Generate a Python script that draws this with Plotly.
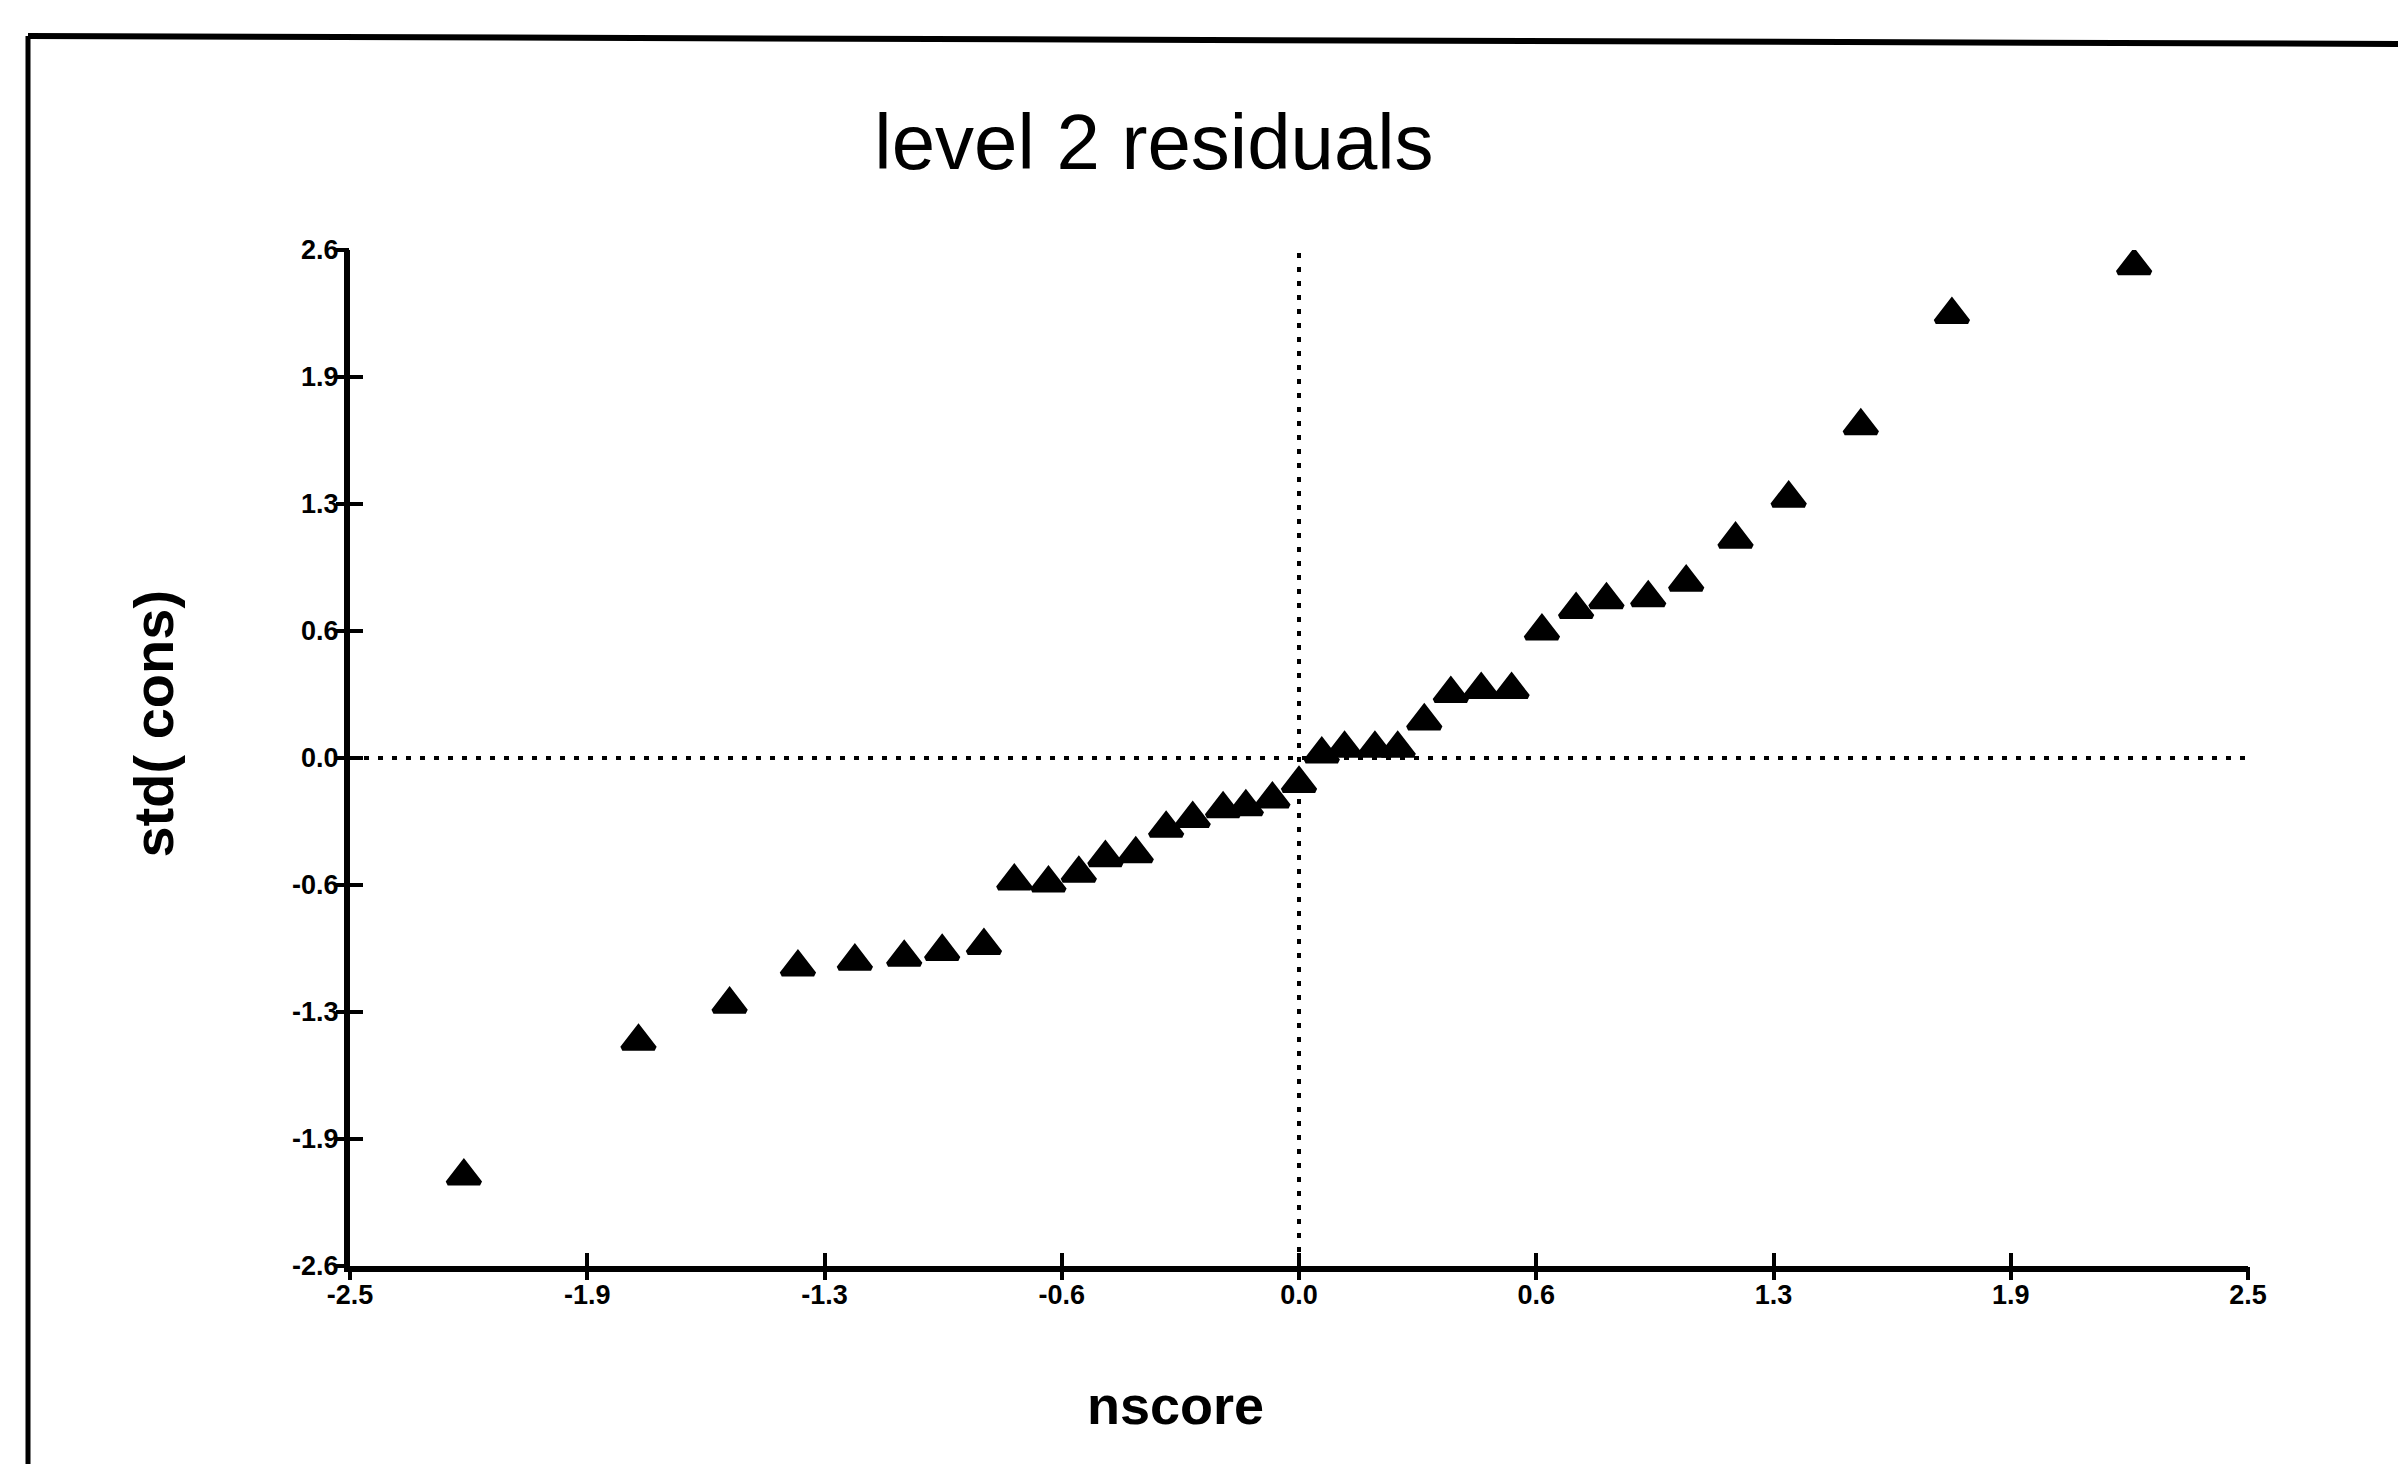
import plotly.graph_objects as go

# ---- data ----
nscore = [-2.20, -1.74, -1.50, -1.32, -1.17, -1.04, -0.94, -0.83, -0.75, -0.66,
          -0.58, -0.51, -0.43, -0.35, -0.28, -0.20, -0.14, -0.07, 0.00, 0.06,
          0.12, 0.20, 0.26, 0.33, 0.40, 0.48, 0.56, 0.64, 0.73, 0.81,
          0.92, 1.02, 1.15, 1.29, 1.48, 1.72, 2.20]
std_cons = [-2.14, -1.45, -1.26, -1.07, -1.04, -1.02, -0.99, -0.96, -0.63, -0.64,
            -0.59, -0.51, -0.49, -0.36, -0.31, -0.26, -0.25, -0.21, -0.13, 0.02,
            0.05, 0.05, 0.05, 0.19, 0.33, 0.35, 0.35, 0.65, 0.76, 0.81,
            0.82, 0.90, 1.12, 1.33, 1.70, 2.27, 2.52]

x_tickvals = [-2.5, -1.875, -1.25, -0.625, 0.0, 0.625, 1.25, 1.875, 2.5]
x_ticktext = ["-2.5", "-1.9", "-1.3", "-0.6", "0.0", "0.6", "1.3", "1.9", "2.5"]
y_tickvals = [2.6, 1.95, 1.3, 0.65, 0.0, -0.65, -1.3, -1.95, -2.6]
y_ticktext = ["2.6", "1.9", "1.3", "0.6", "0.0", "-0.6", "-1.3", "-1.9", "-2.6"]
x_range = [-2.5, 2.5]
y_range = [-2.6, 2.6]
ref_x = 0.0
ref_y = 0.0

FONT = "Liberation Sans, Arial, sans-serif"
W, H = 2406, 1464
ML, MR, MT, MB = 342, 166, 242, 206
PW, PH = W - ML - MR, H - MT - MB


def px_x(px):
    return (px - ML) / PW


def px_y(py):
    return 1 - (py - MT) / PH


fig = go.Figure()
fig.add_trace(go.Scatter(
    x=nscore, y=std_cons, mode="markers",
    marker=dict(symbol="triangle-up", size=28, color="black",
                line=dict(color="black", width=5)),
    showlegend=False, hoverinfo="x+y"))
# empty trace so the overlay axes (outer tick halves) are drawn
fig.add_trace(go.Scatter(x=[], y=[], xaxis="x2", yaxis="y2", showlegend=False))

tickfont = dict(family=FONT, size=27, color="black", weight="bold")

fig.update_layout(
    width=W, height=H,
    margin=dict(l=ML, r=MR, t=MT, b=MB),
    paper_bgcolor="white", plot_bgcolor="white",
    title=dict(text="level 2 residuals", x=0.4763, xref="container", xanchor="center",
               y=0.909, yref="container", yanchor="middle",
               font=dict(family=FONT, size=78, color="black")),
    xaxis=dict(range=x_range, tickvals=x_tickvals, ticktext=x_ticktext,
               ticks="inside", ticklen=13, tickwidth=4, tickcolor="black",
               showline=True, linecolor="black", linewidth=6,
               showgrid=False, zeroline=False, tickfont=tickfont, anchor="y"),
    yaxis=dict(range=y_range, tickvals=y_tickvals, ticktext=y_ticktext,
               ticks="inside", ticklen=13, tickwidth=4, tickcolor="black",
               showline=True, linecolor="black", linewidth=6,
               showgrid=False, zeroline=False, tickfont=tickfont, anchor="x"),
    xaxis2=dict(range=x_range, tickvals=x_tickvals, overlaying="x", anchor="y2",
                side="bottom", ticks="outside", ticklen=13, tickwidth=4,
                tickcolor="black", showticklabels=False, showline=False,
                showgrid=False, zeroline=False),
    yaxis2=dict(range=y_range, tickvals=y_tickvals, overlaying="y", anchor="x2",
                side="left", ticks="outside", ticklen=13, tickwidth=4,
                tickcolor="black", showticklabels=False, showline=False,
                showgrid=False, zeroline=False),
)

# dotted reference lines at zero
fig.add_vline(x=ref_x, line=dict(color="black", width=4, dash="5px,9px"), layer="below")
fig.add_hline(y=ref_y, line=dict(color="black", width=4, dash="5px,9px"), layer="below")

# axis titles
fig.add_annotation(text="nscore", xref="paper", yref="paper", x=0.4347, y=-0.1368,
                   xanchor="center", yanchor="middle", showarrow=False,
                   font=dict(family=FONT, size=54, color="black", weight="bold"))
fig.add_annotation(text="std( cons)", xref="paper", yref="paper", x=-0.1035, y=0.5335,
                   xanchor="center", yanchor="middle", showarrow=False, textangle=-90,
                   font=dict(family=FONT, size=56, color="black", weight="bold"))

# scanned page frame (top and left edges)
fig.add_shape(type="line", xref="paper", yref="paper",
              x0=px_x(20), y0=px_y(28), x1=px_x(W), y1=px_y(36),
              line=dict(color="black", width=6))
fig.add_shape(type="line", xref="paper", yref="paper",
              x0=px_x(20), y0=px_y(28), x1=px_x(20), y1=px_y(H),
              line=dict(color="black", width=5))

fig.write_html("out.html")
